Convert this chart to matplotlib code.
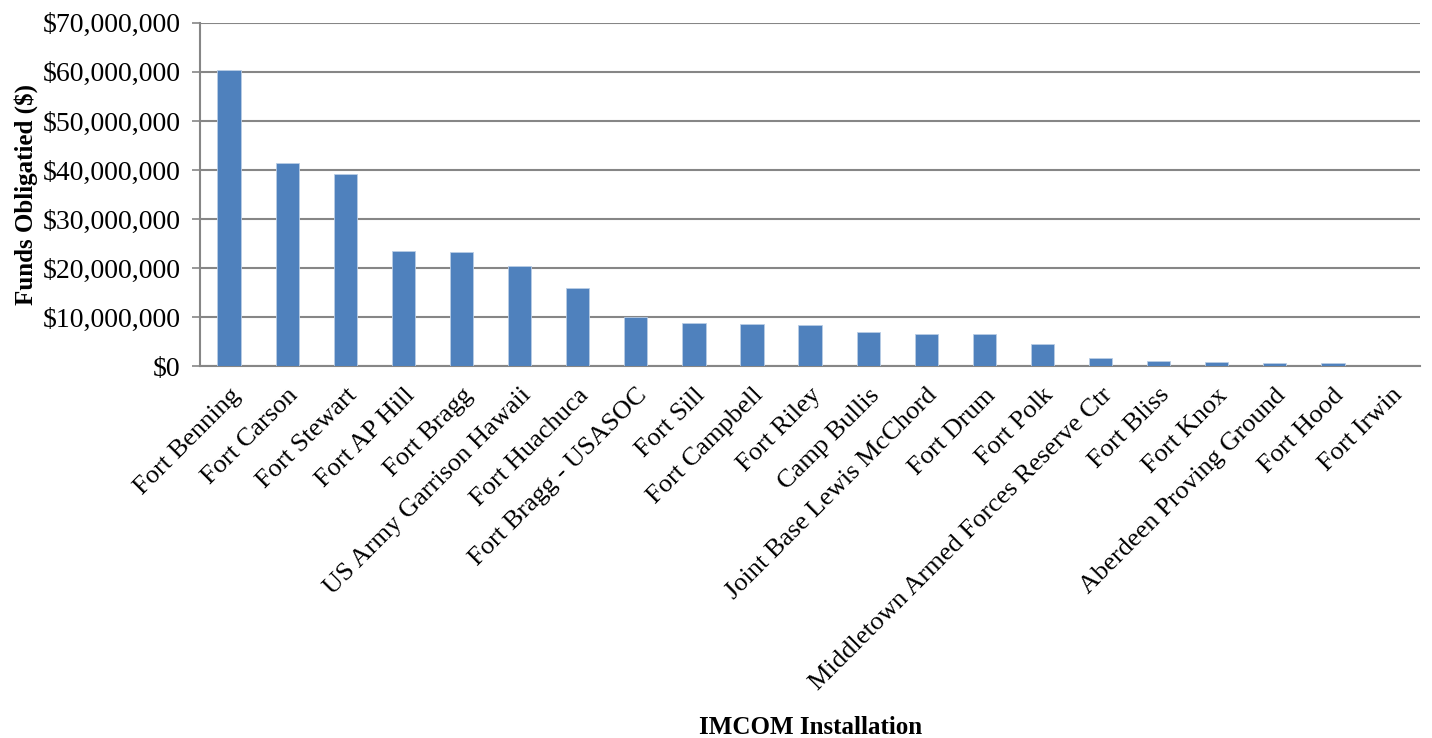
import matplotlib
matplotlib.use("Agg")
import matplotlib.pyplot as plt
from matplotlib.ticker import FuncFormatter, MultipleLocator

installations = [
    "Fort Benning", "Fort Carson", "Fort Stewart", "Fort AP Hill", "Fort Bragg",
    "US Army Garrison Hawaii", "Fort Huachuca", "Fort Bragg - USASOC", "Fort Sill",
    "Fort Campbell", "Fort Riley", "Camp Bullis", "Joint Base Lewis McChord",
    "Fort Drum", "Fort Polk", "Middletown Armed Forces Reserve Ctr", "Fort Bliss",
    "Fort Knox", "Aberdeen Proving Ground", "Fort Hood", "Fort Irwin",
]
funds = [
    60.4e6, 41.4e6, 39.2e6, 23.4e6, 23.2e6,
    20.5e6, 16.0e6, 10.0e6, 8.7e6,
    8.5e6, 8.3e6, 6.9e6, 6.6e6,
    6.5e6, 4.4e6, 1.6e6, 1.1e6,
    0.9e6, 0.65e6, 0.65e6, 0.0,
]

plt.rcParams['font.family'] = ['Liberation Serif', 'DejaVu Serif']

fig = plt.figure(figsize=(14.32, 7.38), dpi=100)
ax = fig.add_axes([0.1397, 0.504, 0.852, 0.465])

x = range(len(installations))
ax.bar(x, funds, width=0.4, color='#4F81BD', edgecolor='#B9CDE5', linewidth=0.6, zorder=3)

ax.set_xlim(-0.5, len(installations) - 0.5)
ax.set_ylim(0, 70e6)
ax.yaxis.set_major_locator(MultipleLocator(10e6))
ax.yaxis.set_major_formatter(FuncFormatter(lambda v, p: f"${v:,.0f}"))
ax.grid(axis='y', color='#868686', linewidth=1.5, zorder=0)

for side in ['top', 'right']:
    ax.spines[side].set_visible(False)
for side in ['left', 'bottom']:
    ax.spines[side].set_color('#868686')
    ax.spines[side].set_linewidth(1.5)

ax.tick_params(axis='y', direction='out', length=6, width=1.2, color='#868686',
               labelsize=20, pad=8)
ax.tick_params(axis='x', length=0, labelsize=19, pad=13)
ax.set_xticks(list(x))
ax.set_xticklabels(installations, rotation=45, ha='right', rotation_mode='anchor')

ax.set_ylabel("Funds Obligatied ($)", fontsize=18, fontweight='bold')
ax.yaxis.set_label_coords(-0.133, 0.5)
ax.set_xlabel("IMCOM Installation", fontsize=18, fontweight='bold')
ax.xaxis.set_label_coords(0.5, -1.02)

fig.savefig("out.png", dpi=100)
